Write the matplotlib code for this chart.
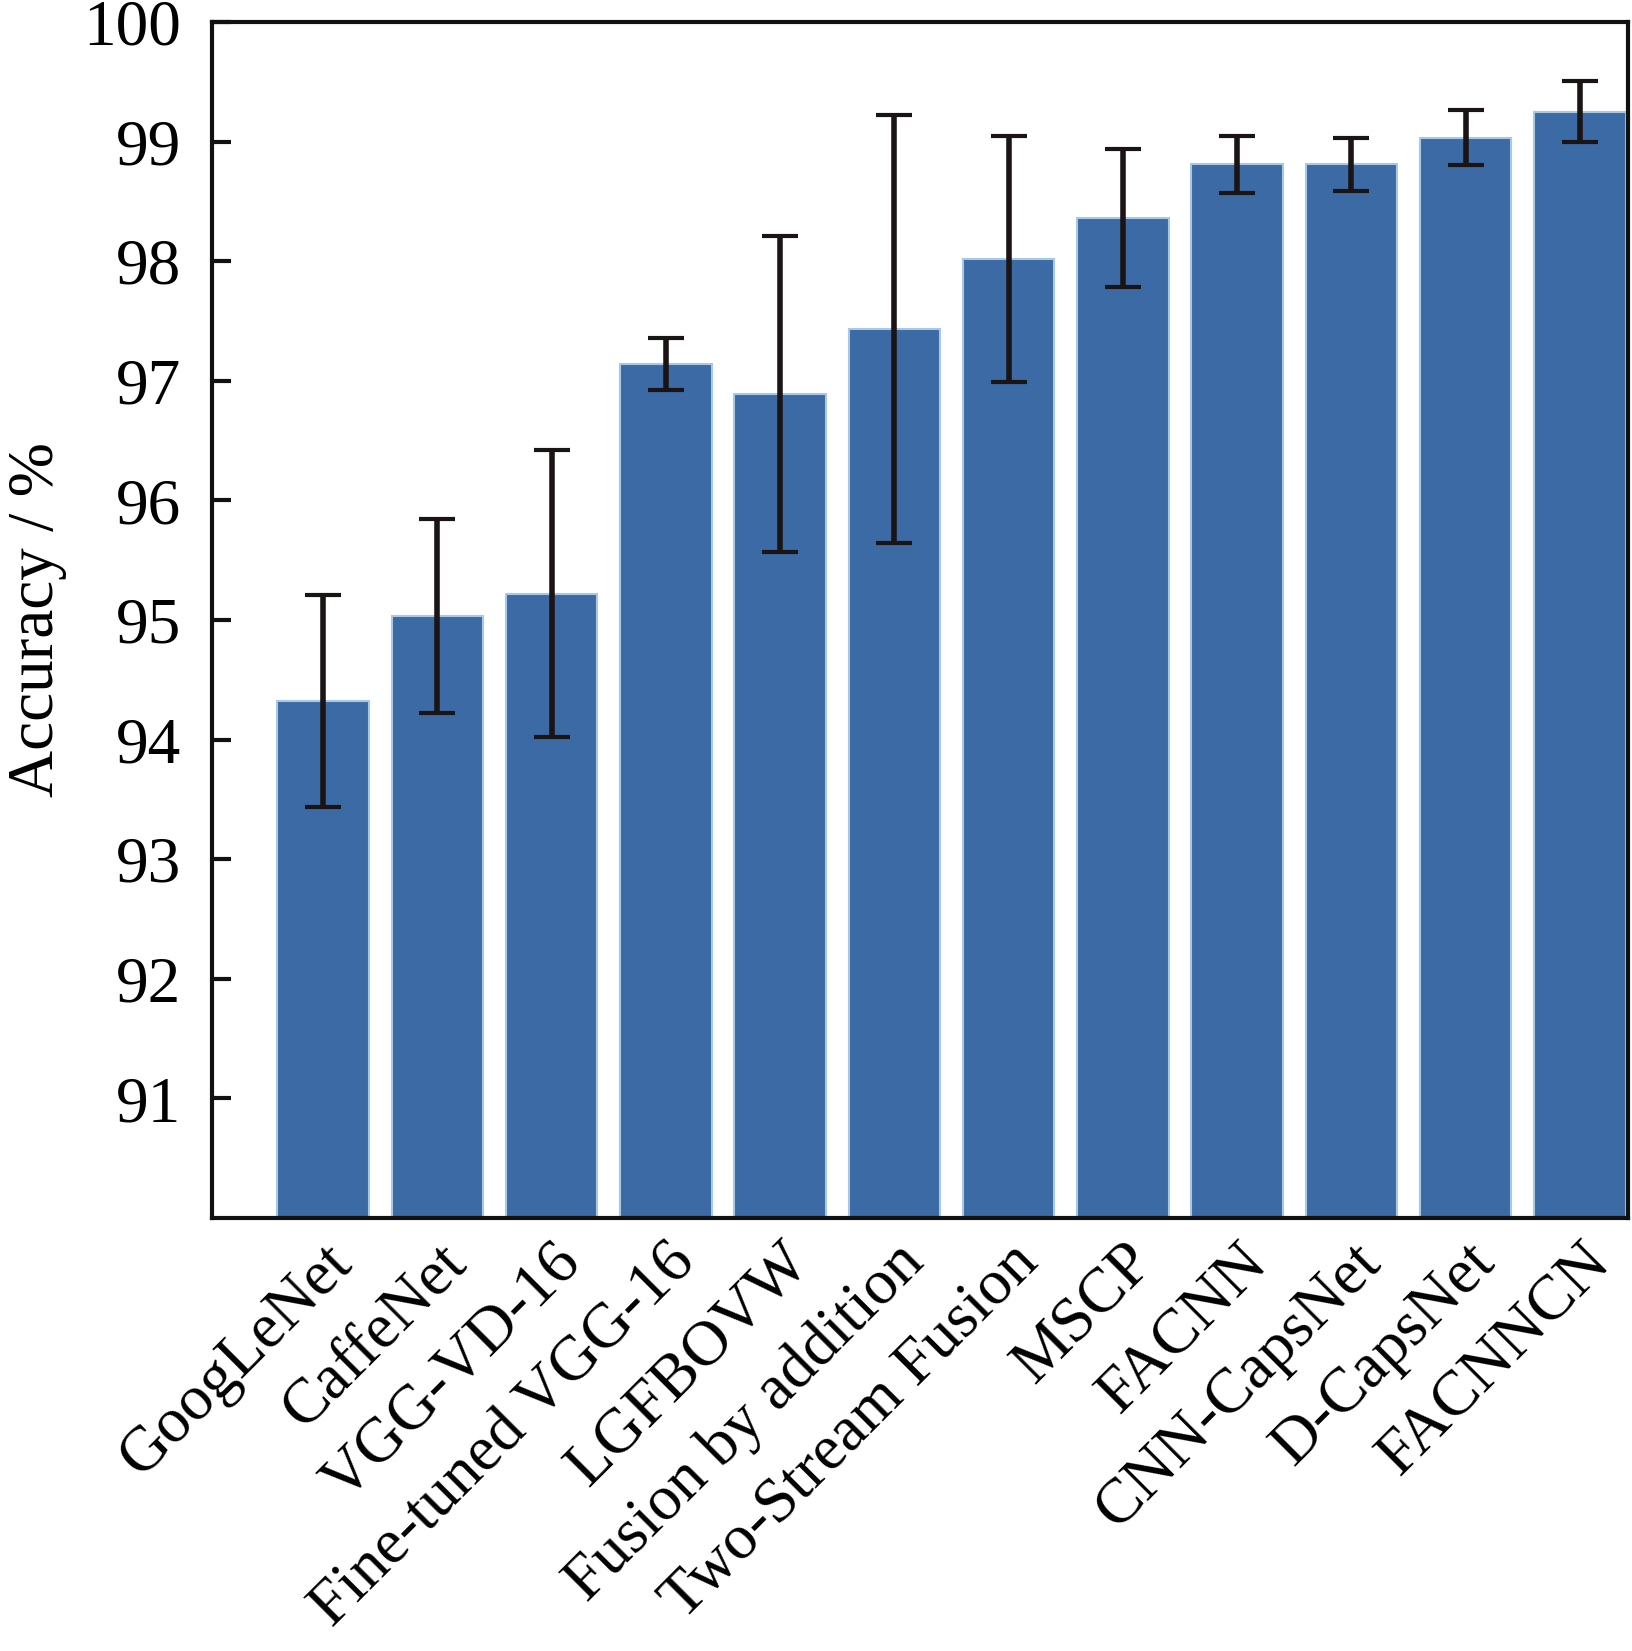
import matplotlib
matplotlib.use("Agg")
import matplotlib.pyplot as plt
import numpy as np

categories = ["GoogLeNet", "CaffeNet", "VGG-VD-16", "Fine-tuned VGG-16", "LGFBOVW",
              "Fusion by addition", "Two-Stream Fusion", "MSCP", "FACNN",
              "CNN-CapsNet", "D-CapsNet", "FACNNCN"]
accuracy = [94.32, 95.03, 95.22, 97.14, 96.89, 97.43, 98.02, 98.36, 98.81, 98.81, 99.03, 99.25]
errors = [0.885, 0.81, 1.20, 0.22, 1.32, 1.79, 1.03, 0.575, 0.24, 0.22, 0.23, 0.255]
yticks = [91, 92, 93, 94, 95, 96, 97, 98, 99, 100]

plt.rcParams['font.family'] = ['Liberation Serif', 'DejaVu Serif']

fig = plt.figure(figsize=(16.32, 16.51), dpi=100)
ax = fig.add_axes([0.130, 0.2623, 0.8675, 0.7244])

x = np.arange(len(categories))
ax.bar(x, accuracy, width=0.8, color='#3B6AA5', edgecolor='#A8C8E6', linewidth=1.5,
       yerr=errors, error_kw=dict(ecolor='#1a1414', elinewidth=4, capsize=13, capthick=3),
       zorder=2)

ax.set_ylim(90, 100)
ax.set_xlim(-0.971, 11.42)
ax.set_yticks(yticks)
ax.set_yticklabels([str(t) for t in yticks])
ax.set_xticks(x)
ax.set_xticklabels(categories, rotation=45, ha='right', va='top', rotation_mode='anchor')

for s in ax.spines.values():
    s.set_linewidth(3)
    s.set_color('#111111')

ax.tick_params(axis='both', direction='in', length=14, width=3, labelsize=47, color='#111111')
ax.tick_params(axis='y', pad=22, right=False)
ax.tick_params(axis='x', pad=11, top=False, labelsize=46)

ax.set_ylabel("Accuracy / %", fontsize=47, labelpad=12)

fig.savefig("out.png", dpi=100)
